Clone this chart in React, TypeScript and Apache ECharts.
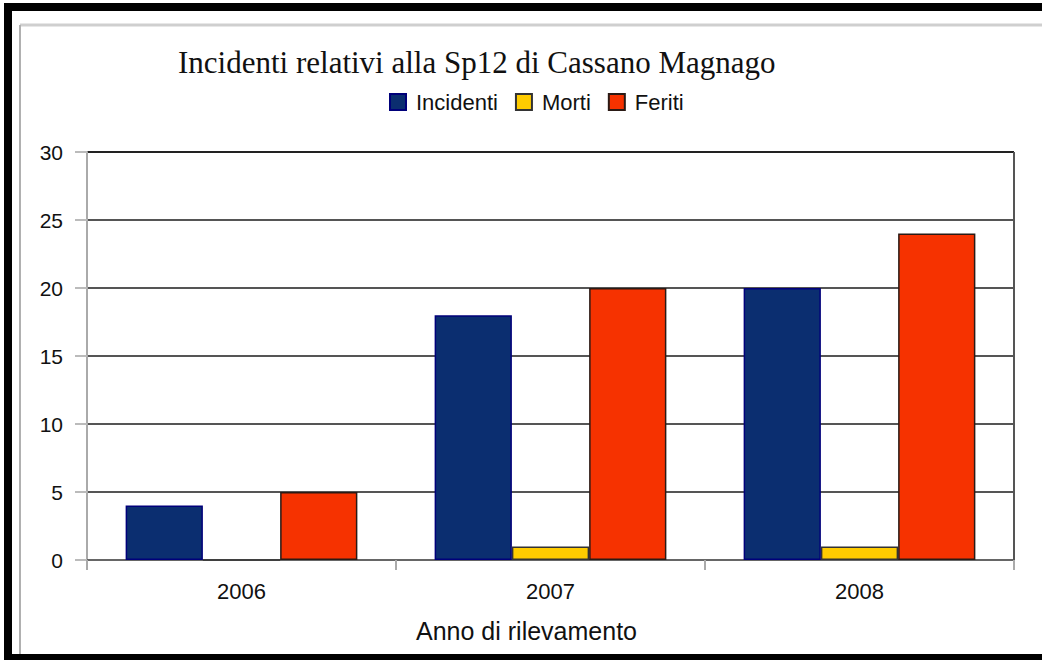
import React, { useEffect, useRef } from "react";
import * as echarts from "echarts";

const years = ["2006", "2007", "2008"];
const incidenti = [4, 18, 20];
const morti = [0, 1, 1];
const feriti = [5, 20, 24];
const seriesNames = ["Incidenti", "Morti", "Feriti"];
const titleText = "Incidenti relativi alla Sp12 di Cassano Magnago";
const xAxisName = "Anno di rilevamento";

export default function App() {
  const ref = useRef<HTMLDivElement>(null);
  useEffect(() => {
    if (!ref.current) return;
    const chart = echarts.init(ref.current, undefined, { renderer: "svg" });
    const sans = "'Liberation Sans', Arial, sans-serif";
    chart.setOption({
      animation: false,
      backgroundColor: "#ffffff",
      title: {
        text: titleText,
        left: 173,
        top: 42,
        textStyle: {
          fontFamily: "'Liberation Serif', 'Times New Roman', serif",
          fontSize: 31,
          fontWeight: "normal",
          color: "#111",
        },
      },
      legend: {
        left: 384,
        top: 86,
        itemWidth: 16,
        itemHeight: 16,
        itemGap: 17,
        icon: "rect",
        data: seriesNames,
        textStyle: {
          fontFamily: sans,
          fontSize: 22,
          color: "#111",
          padding: [0, 0, 0, 5],
        },
      },
      grid: { left: 87, right: 28, top: 152, bottom: 100, containLabel: false },
      xAxis: {
        type: "category",
        data: years,
        name: xAxisName,
        nameLocation: "middle",
        nameGap: 58,
        nameTextStyle: { fontFamily: sans, fontSize: 25, color: "#111", padding: [0, 48, 0, 0] },
        axisLine: { show: true, lineStyle: { color: "#666", width: 2 } },
        axisTick: { show: true, length: 10, lineStyle: { color: "#aaa", width: 2 } },
        axisLabel: { fontFamily: sans, fontSize: 22, color: "#111", margin: 20 },
      },
      yAxis: {
        type: "value",
        min: 0,
        max: 30,
        interval: 5,
        axisLine: { show: true, lineStyle: { color: "#aaa", width: 2 } },
        axisTick: { show: true, length: 12, lineStyle: { color: "#bbb", width: 2 } },
        axisLabel: { fontFamily: sans, fontSize: 21, color: "#111", margin: 24 },
        splitLine: {
          show: true,
          lineStyle: {
            color: ["#666", "#555", "#555", "#555", "#555", "#555", "#222"],
            width: 2,
          },
        },
      },
      series: [
        {
          name: seriesNames[0],
          type: "bar",
          data: incidenti,
          barGap: "0%",
          barCategoryGap: "25%",
          itemStyle: { color: "#0b2e70", borderColor: "#00007a", borderWidth: 1.5 },
        },
        {
          name: seriesNames[1],
          type: "bar",
          data: morti,
          itemStyle: { color: "#ffcc00", borderColor: "#333", borderWidth: 1.5 },
        },
        {
          name: seriesNames[2],
          type: "bar",
          data: feriti,
          itemStyle: { color: "#f63200", borderColor: "#2a1a15", borderWidth: 1.5 },
        },
      ],
      graphic: [
        { type: "rect", shape: { x: 4, y: 3, width: 1038, height: 8 }, style: { fill: "#000" }, silent: true },
        { type: "rect", shape: { x: 4, y: 3, width: 8, height: 657 }, style: { fill: "#000" }, silent: true },
        { type: "rect", shape: { x: 4, y: 654, width: 1038, height: 6 }, style: { fill: "#000" }, silent: true },
        { type: "line", shape: { x1: 20, y1: 25, x2: 1042, y2: 25 }, style: { stroke: "#cfcfcf", lineWidth: 3 }, silent: true },
        { type: "line", shape: { x1: 20, y1: 25, x2: 20, y2: 654 }, style: { stroke: "#b0b0b0", lineWidth: 2 }, silent: true },
        { type: "line", shape: { x1: 1014, y1: 152, x2: 1014, y2: 560 }, style: { stroke: "#555", lineWidth: 2 }, silent: true, z: 10 },
      ],
    });
    return () => chart.dispose();
  }, []);
  return (
    <div
      ref={ref}
      style={{ position: "absolute", left: 0, top: 0, width: 1042, height: 660 }}
    />
  );
}
